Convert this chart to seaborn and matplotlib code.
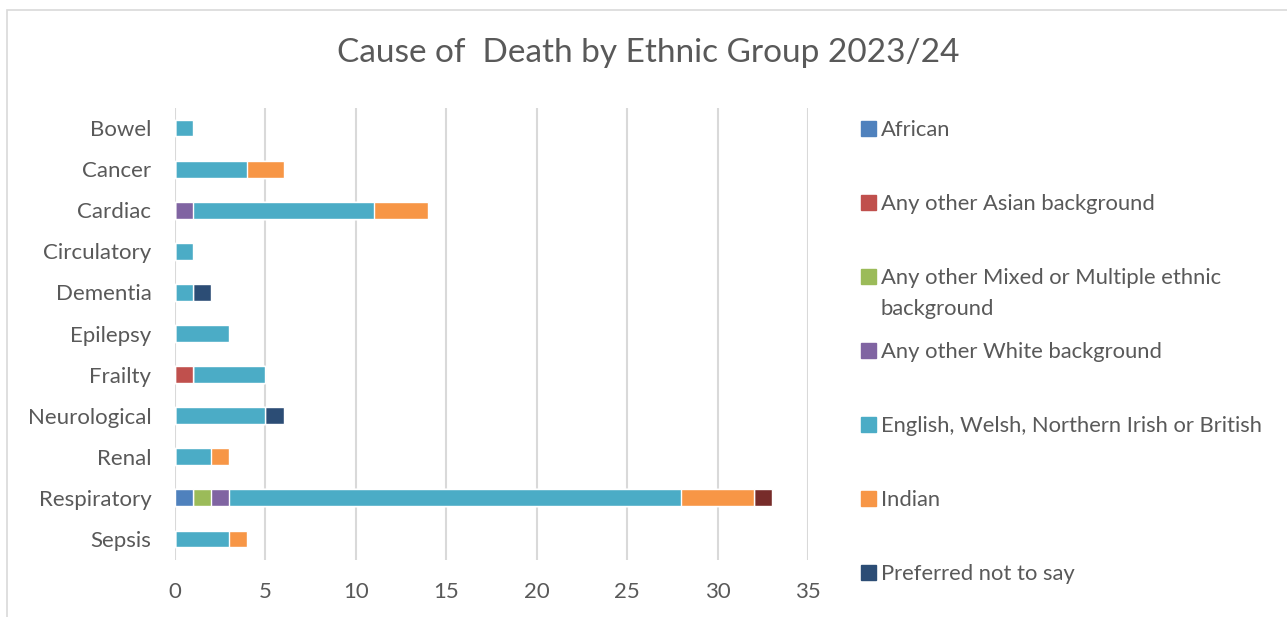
import pandas as pd
import seaborn as sns
import matplotlib.pyplot as plt
from matplotlib.patches import Patch, Rectangle

causes = ['Bowel', 'Cancer', 'Cardiac', 'Circulatory', 'Dementia', 'Epilepsy',
          'Frailty', 'Neurological', 'Renal', 'Respiratory', 'Sepsis']

african = [0, 0, 0, 0, 0, 0, 0, 0, 0, 1, 0]
other_asian = [0, 0, 0, 0, 0, 0, 1, 0, 0, 0, 0]
other_mixed = [0, 0, 0, 0, 0, 0, 0, 0, 0, 1, 0]
other_white = [0, 0, 1, 0, 0, 0, 0, 0, 0, 1, 0]
british = [1, 4, 10, 1, 1, 3, 4, 5, 2, 25, 3]
indian = [0, 2, 3, 0, 0, 0, 0, 0, 1, 4, 1]
not_say = [0, 0, 0, 0, 1, 0, 0, 1, 0, 0, 0]
other = [0, 0, 0, 0, 0, 0, 0, 0, 0, 1, 0]

groups = ['African', 'Any other Asian background',
          'Any other Mixed or Multiple ethnic background',
          'Any other White background',
          'English, Welsh, Northern Irish or British', 'Indian',
          'Preferred not to say', 'Other']
series = [african, other_asian, other_mixed, other_white, british, indian, not_say, other]
colors = ['#4F81BD', '#C0504D', '#9BBB59', '#8064A2', '#4BACC6', '#F79646', '#2C4D75', '#772C2A']

df = pd.DataFrame(dict(zip(groups, series)), index=causes)
cum = df.cumsum(axis=1)

sns.set_style("white")
plt.rcParams['font.family'] = ['Lato', 'DejaVu Sans']

fig = plt.figure(figsize=(12.87, 6.17), dpi=100)
ax = fig.add_axes([175 / 1287, 1 - 559.5 / 617, 633 / 1287, 452 / 617])

# stack by drawing cumulative totals from the back to the front
for g, c in reversed(list(zip(groups, colors))):
    sns.barplot(x=cum[g].values, y=causes, color=c, width=0.41, ax=ax,
                saturation=1, orient='h')

ax.set_xlim(0, 35)
ax.set_xticks(range(0, 36, 5))
ax.grid(axis='x', color='#D9D9D9', linewidth=1.5)
ax.set_axisbelow(True)
for s in ax.spines.values():
    s.set_visible(False)
ax.tick_params(length=0, labelsize=16, labelcolor='#595959')
ax.tick_params(axis='y', pad=17)
ax.tick_params(axis='x', pad=16)
ax.set_xlabel('')
ax.set_ylabel('')

# legend keeps one line per entry; the wrapped part of the long label goes underneath
wrap = 'Any other Mixed or Multiple ethnic background'
leg_labels = [g.replace(' background', '') if g == wrap else g for g in groups[:7]]
handles = [Patch(color=c, label=l) for l, c in zip(leg_labels, colors[:7])]
leg = fig.legend(handles=handles, loc='upper left', bbox_to_anchor=(850 / 1287, 1 - 109 / 617),
                 frameon=False, fontsize=15.8, labelspacing=2.46, handlelength=0.7,
                 handleheight=0.7, handletextpad=0.2, borderpad=0)
for t in leg.get_texts():
    t.set_color('#595959')

fig.canvas.draw()
t = leg.get_texts()[2]
bb = t.get_window_extent()
fig.text(bb.x0 / 1287, (bb.y0 - 31) / 617, 'background', fontsize=15.8,
         color='#595959', ha='left', va='bottom')

fig.text(648 / 1287, 1 - 53 / 617, 'Cause of  Death by Ethnic Group 2023/24',
         ha='center', va='center', fontsize=24, color='#595959')

fig.patches.append(Rectangle((7 / 1287, -0.1), 1.1, 1.1 - 10 / 617, transform=fig.transFigure,
                             fill=False, edgecolor='#D9D9D9', linewidth=1.2))

plt.savefig('out.png', dpi=100)
